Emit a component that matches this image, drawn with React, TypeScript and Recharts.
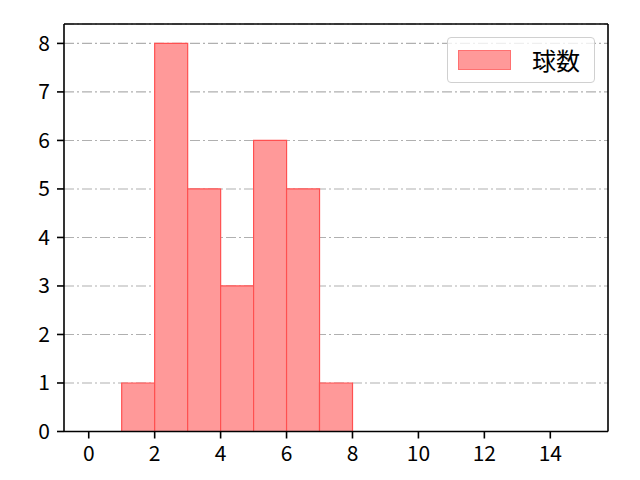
import { Bar, BarChart, CartesianGrid, Legend, ReferenceLine, XAxis, YAxis } from "recharts";

// ヒストグラム：ビン中心と度数
const BIN_CENTERS = [1.5, 2.5, 3.5, 4.5, 5.5, 6.5, 7.5];
const COUNTS = [1, 8, 5, 3, 6, 5, 1];
const X_TICKS = [0, 2, 4, 6, 8, 10, 12, 14];
const Y_TICKS = [0, 1, 2, 3, 4, 5, 6, 7, 8];
const SERIES_NAME = "球数";

const X_DOMAIN: [number, number] = [-0.75, 15.75];
const Y_DOMAIN: [number, number] = [0, 8.4];

const FONT = "'Noto Sans CJK JP', 'Noto Sans', sans-serif";
const AXIS = { stroke: "#000", strokeWidth: 1.6 };

const data = BIN_CENTERS.map((x, i) => ({ x, count: COUNTS[i] }));

const W = 640;
const H = 480;
const M = { top: 24, right: 32, left: 0, bottom: 0 };

function LegendBox({ payload }: { payload?: { value: string; color: string }[] }) {
  return (
    <div
      style={{
        display: "flex",
        alignItems: "center",
        width: 148,
        height: 46,
        boxSizing: "border-box",
        border: "1px solid #d0d0d0",
        borderRadius: 4,
        background: "rgba(255,255,255,0.8)",
        fontFamily: FONT,
        fontSize: 24,
        color: "#000",
      }}
    >
      {(payload ?? []).map((p) => (
        <div key={p.value} style={{ display: "flex", alignItems: "center" }}>
          <span
            style={{
              display: "inline-block",
              width: 53,
              height: 20,
              marginLeft: 10,
              marginRight: 21,
              background: "#ff9999",
              border: "1px solid #ff7070",
              boxSizing: "border-box",
            }}
          />
          <span style={{ lineHeight: 1 }}>{p.value}</span>
        </div>
      ))}
    </div>
  );
}

export default function App() {
  return (
    <div style={{ position: "absolute", left: 0, top: 0, width: W, height: H, background: "#fff" }}>
      <BarChart width={W} height={H} data={data} margin={M} barCategoryGap={0}>
        <CartesianGrid
          vertical={false}
          stroke="#b0b0b0"
          strokeWidth={1.1}
          strokeDasharray="10 3 2 3"
        />
        <XAxis
          dataKey="x"
          type="number"
          domain={X_DOMAIN}
          ticks={X_TICKS}
          allowDataOverflow
          height={48.5}
          tickSize={7}
          tickMargin={8}
          axisLine={AXIS}
          tickLine={AXIS}
          tick={{ fill: "#000", fontSize: 21, fontFamily: FONT }}
        />
        <YAxis
          type="number"
          domain={Y_DOMAIN}
          ticks={Y_TICKS}
          allowDataOverflow
          width={64}
          tickSize={7}
          tickMargin={7}
          axisLine={AXIS}
          tickLine={AXIS}
          tick={{ fill: "#000", fontSize: 21, fontFamily: FONT }}
        />
        <Legend
          content={<LegendBox />}
          layout="horizontal"
          verticalAlign="middle"
          align="center"
          wrapperStyle={{ position: "absolute", top: 37, left: 447, width: 148 }}
        />
        <Bar
          dataKey="count"
          name={SERIES_NAME}
          fill="#ff9999"
          stroke="#ff5050"
          strokeWidth={1.2}
          isAnimationActive={false}
        />
        <ReferenceLine y={Y_DOMAIN[1]} stroke="#000" strokeWidth={1.6} />
        <ReferenceLine x={X_DOMAIN[1]} stroke="#000" strokeWidth={1.6} />
      </BarChart>
    </div>
  );
}
